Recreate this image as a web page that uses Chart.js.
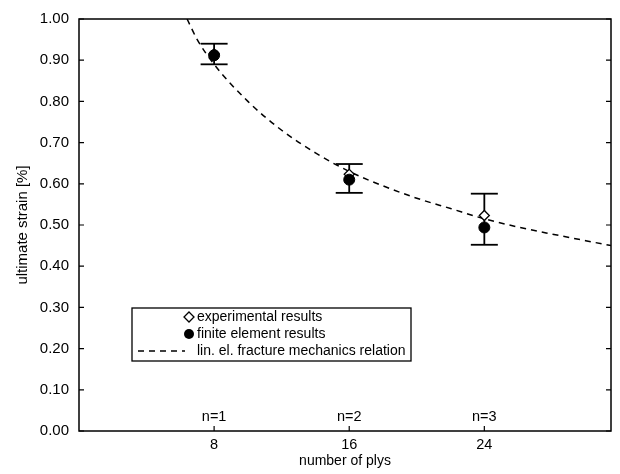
<!DOCTYPE html>
<html>
<head>
<meta charset="utf-8">
<script src="https://cdn.jsdelivr.net/npm/chart.js@4"></script>
<style>
  html, body { margin: 0; padding: 0; background: #fff; }
</style>
</head>
<body>
<canvas id="graph" width="620" height="474"></canvas>
<script>
// values
const plys = [8, 16, 24];
const groupLabels = ['n=1', 'n=2', 'n=3'];
const experimental = [0.915, 0.623, 0.523];
const finiteElement = [0.912, 0.610, 0.494];
const errLow = [0.890, 0.578, 0.452];
const errHigh = [0.940, 0.648, 0.576];
const curvePlys = [6.4, 7, 8, 10, 12, 14, 16, 18, 20, 22, 24, 26, 28, 30, 31.5];
const curveStrain = [1.00, 0.95, 0.89, 0.80, 0.73, 0.675, 0.63, 0.595, 0.565, 0.54, 0.515, 0.495, 0.478, 0.462, 0.45];
const xTicks = [8, 16, 24];
const legendLabels = ['experimental results', 'finite element results', 'lin. el. fracture mechanics relation'];

const FONT = 'Liberation Sans, Arial, Helvetica, sans-serif';

let errData = [];
plys.forEach((p, i) => {
  errData.push({x: p, y: errLow[i]}, {x: p, y: errHigh[i]}, {x: p, y: null});
});

// frame, inward ticks, n= labels and boxed legend
const decorations = {
  id: 'decorations',
  afterDraw(chart) {
    const ctx = chart.ctx;
    const a = chart.chartArea;
    const xs = chart.scales.x, ys = chart.scales.y;
    ctx.save();
    ctx.strokeStyle = '#000';
    ctx.lineWidth = 1.5;
    ctx.strokeRect(a.left, a.top, a.right - a.left, a.bottom - a.top);

    ctx.lineWidth = 1.2;
    ctx.beginPath();
    ys.ticks.forEach(t => {
      const py = ys.getPixelForValue(t.value);
      ctx.moveTo(a.left, py); ctx.lineTo(a.left + 5, py);
      ctx.moveTo(a.right, py); ctx.lineTo(a.right - 5, py);
    });
    xTicks.forEach(v => {
      const px = xs.getPixelForValue(v);
      ctx.moveTo(px, a.bottom); ctx.lineTo(px, a.bottom - 5);
    });
    ctx.stroke();

    ctx.fillStyle = '#000';
    ctx.font = '14.5px ' + FONT;
    ctx.textAlign = 'center';
    ctx.textBaseline = 'alphabetic';
    plys.forEach((p, i) => {
      ctx.fillText(groupLabels[i], xs.getPixelForValue(p), a.bottom - 10);
    });

    // legend box
    const bx = a.left + 53, by = a.top + 289, bw = 279, bh = 53;
    ctx.lineWidth = 1.3;
    ctx.strokeRect(bx, by, bw, bh);
    ctx.textAlign = 'left';
    ctx.textBaseline = 'middle';
    ctx.font = '14px ' + FONT;
    const rows = [by + 9, by + 26, by + 43];
    // diamond
    ctx.lineWidth = 1.3;
    ctx.beginPath();
    ctx.moveTo(bx + 57, rows[0] - 5);
    ctx.lineTo(bx + 62, rows[0]);
    ctx.lineTo(bx + 57, rows[0] + 5);
    ctx.lineTo(bx + 52, rows[0]);
    ctx.closePath();
    ctx.stroke();
    ctx.fillText(legendLabels[0], bx + 65, rows[0]);
    // filled circle
    ctx.beginPath();
    ctx.arc(bx + 57, rows[1], 5, 0, Math.PI * 2);
    ctx.fill();
    ctx.fillText(legendLabels[1], bx + 65, rows[1]);
    // dashed line
    ctx.setLineDash([6, 5]);
    ctx.lineWidth = 1.5;
    ctx.beginPath();
    ctx.moveTo(bx + 6, rows[2]); ctx.lineTo(bx + 53, rows[2]);
    ctx.stroke();
    ctx.setLineDash([]);
    ctx.fillText(legendLabels[2], bx + 65, rows[2]);
    ctx.restore();
  }
};

new Chart(document.getElementById('graph').getContext('2d'), {
  type: 'scatter',
  data: {
    datasets: [{
      label: 'finite element results',
      data: plys.map((p, i) => ({x: p, y: finiteElement[i]})),
      pointStyle: 'circle',
      pointRadius: 5.5,
      backgroundColor: '#000',
      borderColor: '#000',
      order: 0
    }, {
      label: 'experimental results',
      data: plys.map((p, i) => ({x: p, y: experimental[i]})),
      pointStyle: 'rectRot',
      pointRadius: 5,
      backgroundColor: '#fff',
      borderColor: '#000',
      borderWidth: 1.3,
      order: 1
    }, {
      label: 'lin. el. fracture mechanics relation',
      data: curvePlys.map((p, i) => ({x: p, y: curveStrain[i]})),
      showLine: true,
      tension: 0.4,
      cubicInterpolationMode: 'monotone',
      pointRadius: 0,
      borderColor: '#000',
      borderWidth: 1.5,
      borderDash: [6, 5],
      order: 2
    }, {
      label: 'error',
      data: errData,
      showLine: true,
      spanGaps: false,
      pointStyle: 'line',
      pointRadius: 13.5,
      borderColor: '#000',
      borderWidth: 1.8,
      order: 3
    }]
  },
  options: {
    responsive: false,
    animation: false,
    layout: { autoPadding: false, padding: { top: 18, right: 9, left: 0, bottom: 0 } },
    plugins: {
      legend: { display: false },
      tooltip: { enabled: false }
    },
    scales: {
      x: {
        type: 'linear',
        min: 0,
        max: 31.5,
        afterBuildTicks: s => { s.ticks = xTicks.map(v => ({value: v})); },
        afterFit: s => { s.height = 43; },
        grid: { display: false, drawTicks: false },
        border: { display: false },
        ticks: { color: '#000', font: { family: FONT, size: 14.5 }, padding: 5 },
        title: {
          display: true, text: 'number of plys', color: '#000',
          font: { family: FONT, size: 14 }, padding: { top: 0, bottom: 4 }
        }
      },
      y: {
        min: 0,
        max: 1,
        afterFit: s => { s.width = 79; },
        grid: { display: false, drawTicks: false },
        border: { display: false },
        ticks: {
          stepSize: 0.1, color: '#000', padding: 10,
          font: { family: FONT, size: 15 },
          callback: v => v.toFixed(2)
        },
        title: {
          display: true, text: 'ultimate strain [%]', color: '#000',
          font: { family: FONT, size: 15 }, padding: { top: 14, bottom: 0 }
        }
      }
    }
  },
  plugins: [decorations]
});
</script>
</body>
</html>
